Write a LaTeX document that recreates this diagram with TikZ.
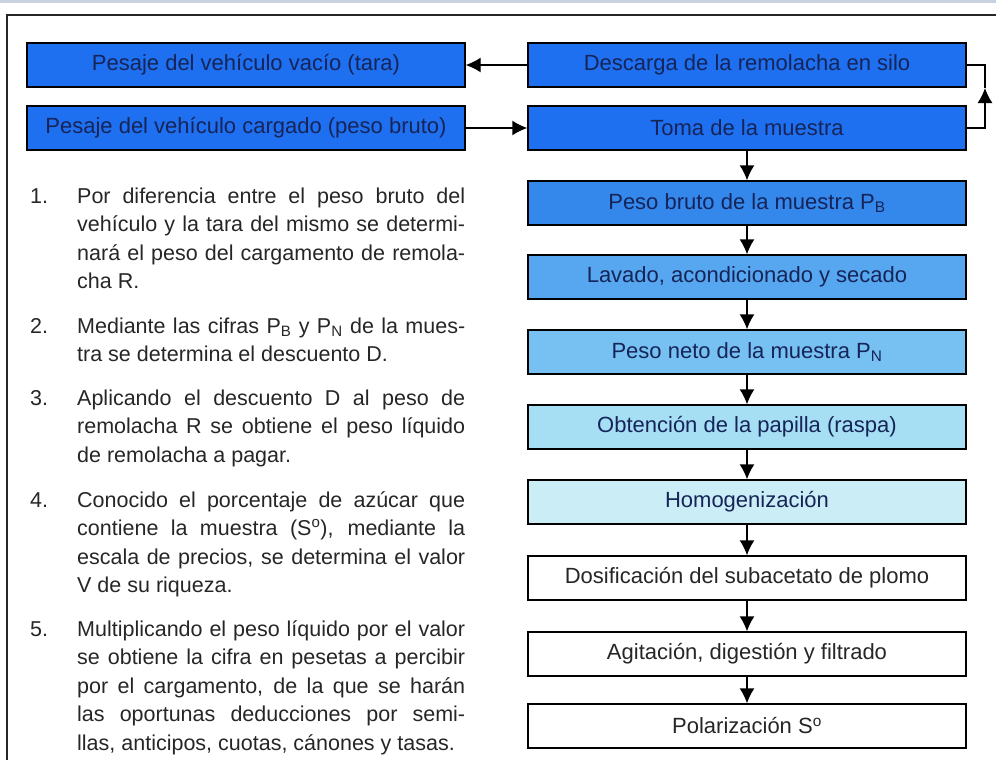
\documentclass[tikz,border=0pt]{standalone}
\usepackage{fontspec}
\setmainfont{Liberation Sans}
\usetikzlibrary{arrows.meta}
\definecolor{azulA}{RGB}{30,112,240}
\definecolor{azulB}{RGB}{52,136,236}
\definecolor{azulC}{RGB}{86,166,240}
\definecolor{azulD}{RGB}{118,192,242}
\definecolor{azulE}{RGB}{166,222,244}
\definecolor{azulF}{RGB}{202,237,246}
\definecolor{marino}{RGB}{22,36,88}
\definecolor{tinta}{RGB}{38,38,38}
\definecolor{franja}{RGB}{200,210,225}
\begin{document}
\begin{tikzpicture}[x=1pt, y=-1pt,
	paso/.style={draw, line width=1.4pt, minimum width=438pt, minimum height=44pt,
		inner sep=0pt, text=marino, font=\fontsize{22}{26}\selectfont},
	flecha/.style={-{Latex[length=15pt,width=15pt]}, line width=1.4pt},
	numero/.style={anchor=base west, inner sep=0pt, text=tinta,
		font=\fontsize{21.5}{28.5}\selectfont},
	parrafo/.style={anchor=base west, inner sep=0pt, text width=388pt, align=justify,
		text=tinta, font={\fontsize{21.5}{28.5}\selectfont\tolerance=9999\relax}}]
	\useasboundingbox (0,0) rectangle (996,760);
	\fill[franja] (0,0) rectangle (996,3);
	\draw[line width=1.6pt, black!85] (7,760) -- (7,15) -- (996,15);

	\node[paso, fill=azulA] (tara) at (246,65) {Pesaje del vehículo vacío (tara)};
	\node[paso, fill=azulA] (cargado) at (246,128) {Pesaje del vehículo cargado (peso bruto)};

	\node[paso, fill=azulA] (descarga) at (747,65) {Descarga de la remolacha en silo};
	\node[paso, fill=azulA] (toma) at (747,128) {Toma de la muestra};
	\node[paso, fill=azulB] (bruto) at (747,203) {Peso bruto de la muestra P\textsubscript{B}};
	\node[paso, fill=azulC] (lavado) at (747,277) {Lavado, acondicionado y secado};
	\node[paso, fill=azulD] (neto) at (747,352) {Peso neto de la muestra P\textsubscript{N}};
	\node[paso, fill=azulE] (papilla) at (747,427) {Obtención de la papilla (raspa)};
	\node[paso, fill=azulF] (homog) at (747,502) {Homogenización};
	\node[paso, fill=white, text=tinta] (dosif) at (747,578) {Dosificación del subacetato de plomo};
	\node[paso, fill=white, text=tinta] (agita) at (747,654) {Agitación, digestión y filtrado};
	\node[paso, fill=white, text=tinta] (polar) at (747,726) {Polarización S\textsuperscript{o}};
	\coordinate (giro) at (985,88);

	\draw[flecha] (descarga) to (tara);
	\draw[flecha] (cargado) to (toma);
	\draw[flecha] (toma.east) -| (giro);
	\draw[line width=1.4pt] (descarga.east) -| (giro);
	\draw[flecha] (toma) to (bruto);
	\draw[flecha] (bruto) to (lavado);
	\draw[flecha] (lavado) to (neto);
	\draw[flecha] (neto) to (papilla);
	\draw[flecha] (papilla) to (homog);
	\draw[flecha] (homog) to (dosif);
	\draw[flecha] (dosif) to (agita);
	\draw[flecha] (agita) to (polar);

	\node[numero] (n1) at (30,203) {1.};
	\node[parrafo] (p1) at (77,203) {Por diferencia entre el peso bruto del\linebreak
		vehículo y la tara del mismo se determi-\linebreak
		nará el peso del cargamento de remola-\linebreak
		cha R.};
	\node[numero] (n2) at (30,333) {2.};
	\node[parrafo] (p2) at (77,333) {Mediante las cifras P\textsubscript{B} y P\textsubscript{N} de la mues-\linebreak
		tra se determina el descuento D.};
	\node[numero] (n3) at (30,405) {3.};
	\node[parrafo] (p3) at (77,405) {Aplicando el descuento D al peso de\linebreak
		remolacha R se obtiene el peso líquido\linebreak
		de remolacha a pagar.};
	\node[numero] (n4) at (30,507) {4.};
	\node[parrafo] (p4) at (77,507) {Conocido el porcentaje de azúcar que\linebreak
		contiene la muestra (S\textsuperscript{o}), mediante la\linebreak
		escala de precios, se determina el valor\linebreak
		V de su riqueza.};
	\node[numero] (n5) at (30,636) {5.};
	\node[parrafo] (p5) at (77,636) {Multiplicando el peso líquido por el valor\linebreak
		se obtiene la cifra en pesetas a percibir\linebreak
		por el cargamento, de la que se harán\linebreak
		las oportunas deducciones por semi-\linebreak
		llas, anticipos, cuotas, cánones y tasas.};
\end{tikzpicture}
\end{document}
